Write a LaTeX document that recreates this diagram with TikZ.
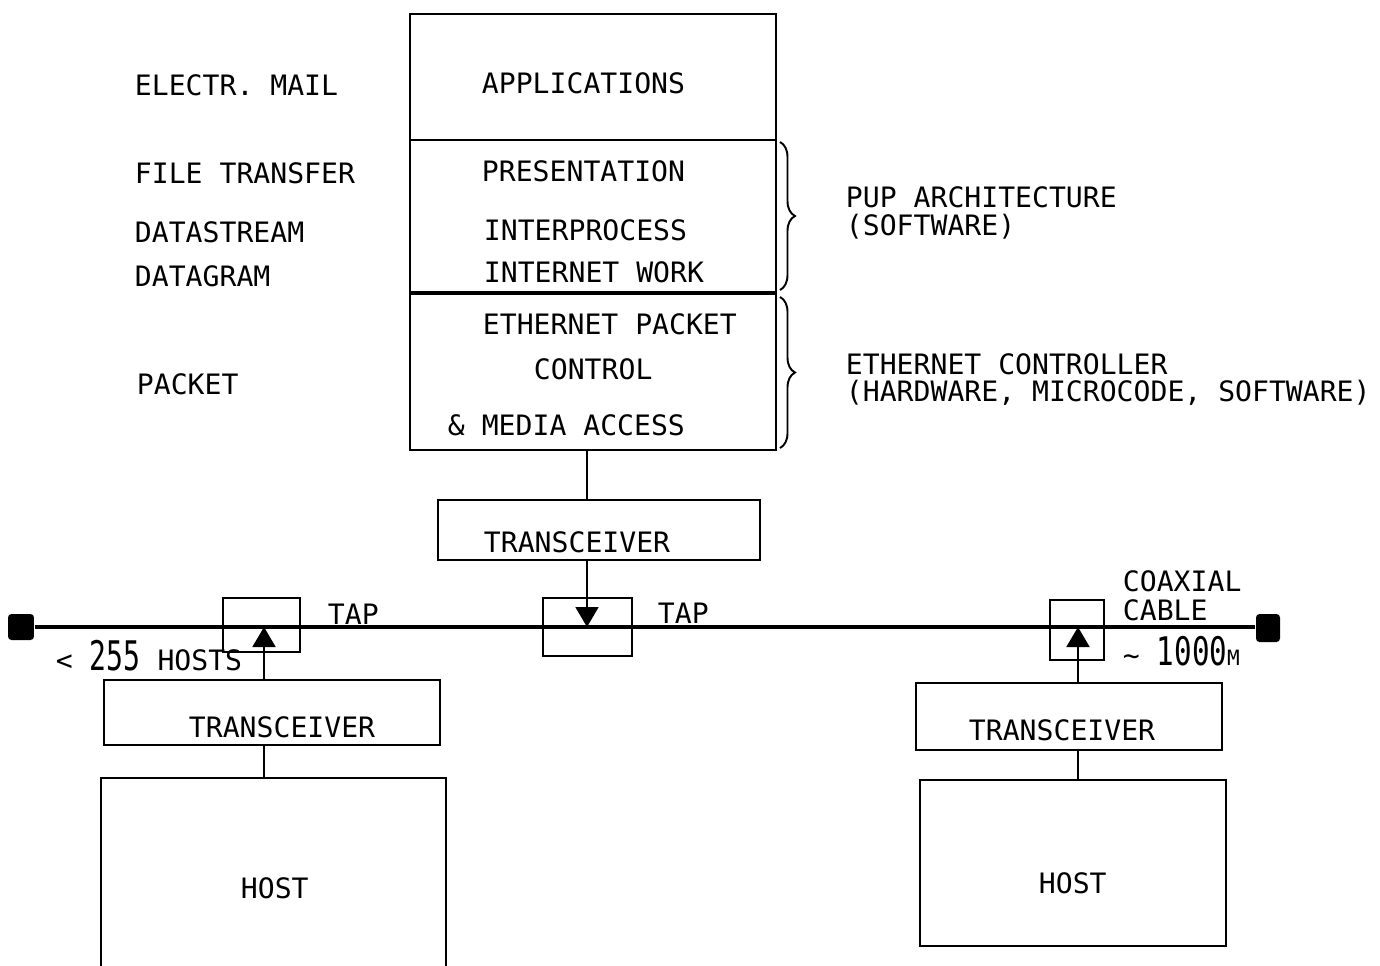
\documentclass[tikz,border=0pt]{standalone}
\usepackage{fontspec}
\setmainfont{DejaVu Sans Mono}
\usetikzlibrary{arrows.meta,decorations.pathreplacing}

\begin{document}
\begin{tikzpicture}[x=0.02cm, y=-0.02cm, line width=1.1pt,
		box/.style={draw, rectangle, inner sep=0pt},
		lbl/.style={anchor=base west, inner sep=0pt, font=\fontsize{16}{19}\selectfont},
		term/.style={fill, rounded corners=2pt, inner sep=0pt},
		tip/.style={-{Triangle[length=0.4cm, width=0.46cm]}},
		brc/.style={decorate, decoration={brace, amplitude=0.3cm}}]
	\useasboundingbox (0,0) rectangle (1380,965);

	% protocol stack
	\node[box, minimum width=7.32cm, minimum height=8.72cm] (stack) at (593,232) {};
	\draw (stack.west |- 0,140) -- (stack.east |- 0,140);
	\draw[line width=2.4pt] (stack.west |- 0,293) -- (stack.east |- 0,293);
	\node[lbl] (app) at (481,93) {APPLICATIONS};
	\node[lbl] (pres) at (481,181) {PRESENTATION};
	\node[lbl] (ipc) at (483,240) {INTERPROCESS};
	\node[lbl] (inet) at (483,282) {INTERNET WORK};
	\node[lbl] (epc) at (482,334) {ETHERNET PACKET};
	\node[lbl] (ctl) at (533,379) {CONTROL};
	\node[lbl] (mac) at (447,435) {\& MEDIA ACCESS};

	% left column
	\node[lbl] (mail) at (134,95) {ELECTR. MAIL};
	\node[lbl] (ftp) at (134,183) {FILE TRANSFER};
	\node[lbl] (dstr) at (134,242) {DATASTREAM};
	\node[lbl] (dgram) at (134,286) {DATAGRAM};
	\node[lbl] (pkt) at (136,394) {PACKET};

	% braces on the right
	\draw[brc] (780,142) -- (780,290);
	\draw[brc] (780,297) -- (780,448);
	\node[lbl] (pup) at (845,207) {PUP ARCHITECTURE};
	\node[lbl] (pups) at (845,235) {(SOFTWARE)};
	\node[lbl] (ectl) at (845,374) {ETHERNET CONTROLLER};
	\node[lbl] (ectls) at (845,401) {(HARDWARE, MICROCODE, SOFTWARE)};

	% coaxial cable
	\node[term, minimum width=0.52cm, minimum height=0.52cm] (termL) at (21,627) {};
	\node[term, minimum width=0.48cm, minimum height=0.56cm] (termR) at (1268,628) {};
	\draw[line width=1.8pt] (termL.east) -- (termR.west |- termL.east);
	\coordinate (tl) at (264,627);
	\coordinate (tm) at (587,627);
	\coordinate (tr) at (1078,627);

	% taps
	\node[box, minimum width=1.54cm, minimum height=1.08cm] (tapL) at (261.5,625) {};
	\node[box, minimum width=1.78cm, minimum height=1.16cm] (tapM) at (587.5,627) {};
	\node[box, minimum width=1.08cm, minimum height=1.2cm] (tapR) at (1077,630) {};
	\node[lbl] (tapLt) at (327,624) {TAP};
	\node[lbl] (tapMt) at (657,623) {TAP};
	\node[lbl] (coax) at (1122,591) {COAXIAL};
	\node[lbl] (cable) at (1122,620) {CABLE};
	\node[lbl] (len) at (1122,665) {\~{} \scalebox{1.04}[1.4]{1000}{\fontsize{12}{14}\selectfont M}};
	\node[lbl] (hosts) at (55,670) {< \scalebox{1}[1.45]{255} HOSTS};

	% transceivers
	\node[box, minimum width=6.44cm, minimum height=1.2cm] (trM) at (599,530) {};
	\node[box, minimum width=6.72cm, minimum height=1.3cm] (trL) at (272,712.5) {};
	\node[box, minimum width=6.12cm, minimum height=1.34cm] (trR) at (1069,716.5) {};
	\node[lbl] (trMt) at (483,552) {TRANSCEIVER};
	\node[lbl] (trLt) at (188,737) {TRANSCEIVER};
	\node[lbl] (trRt) at (968,740) {TRANSCEIVER};

	% hosts
	\node[box, minimum width=6.9cm, minimum height=4.44cm] (hostL) at (273.5,889) {};
	\node[box, minimum width=6.12cm, minimum height=3.32cm] (hostR) at (1073,863) {};
	\node[lbl] (hostLt) at (240,898) {HOST};
	\node[lbl] (hostRt) at (1038,893) {HOST};

	% connections
	\draw (stack.south -| tm) -- (trM.north -| tm);
	\draw[tip] (trM.south -| tm) -- (tm);
	\draw[tip] (trL.north -| tl) -- (tl);
	\draw (trL.south -| tl) -- (hostL.north -| tl);
	\draw[tip] (trR.north -| tr) -- (tr);
	\draw (trR.south -| tr) -- (hostR.north -| tr);
\end{tikzpicture}
\end{document}
